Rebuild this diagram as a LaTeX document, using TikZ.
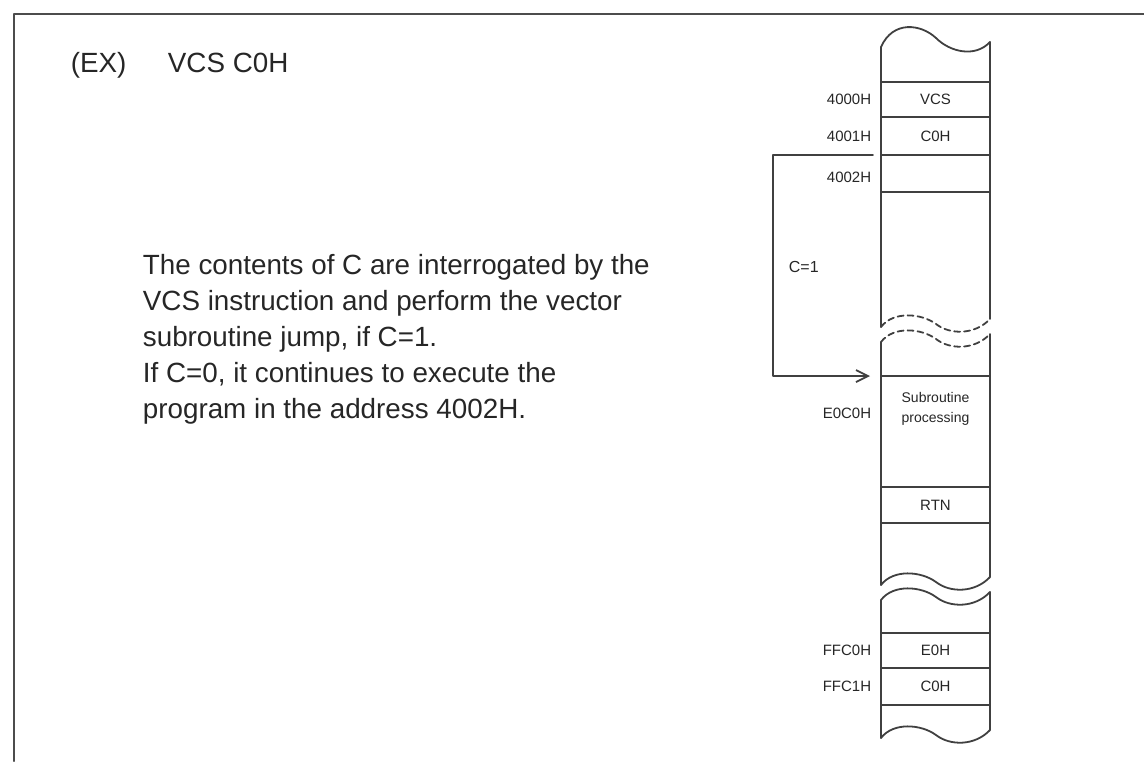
\documentclass[tikz,border=0pt]{standalone}
\usepackage{fontspec}
\setmainfont{Liberation Sans}
\usetikzlibrary{arrows.meta,positioning}
\colorlet{ink}{black!75}
\colorlet{txt}{black!85}

\begin{document}
\begin{tikzpicture}[x=0.5pt, y=-0.5pt, line join=round, line cap=round, >={Straight Barb[length=6pt,width=6pt]}, line width=0.9pt,
	cell/.style={draw=ink, minimum width=54.5pt, inner sep=0, outer sep=0, text=txt, font=\fontsize{7.5pt}{9pt}\selectfont},
	addr/.style={inner sep=0, text=txt, font=\fontsize{7.5pt}{9pt}\selectfont},
	para/.style={inner sep=0, align=left, text=txt, font=\fontsize{13.9pt}{18pt}\selectfont}]
			\useasboundingbox (0,0) rectangle (1144,761);
			\draw[black!70, line width=1pt] (14,761) -- (14,14) -- (1144,14);
			% heading and text
			\node[para, anchor=base west] (ex) at (70,72) {(EX)};
			\node[para, anchor=base west] (instr) at (167,72) {VCS C0H};
			\node[para, anchor=north west] (desc) at (142,253) {The contents of C are interrogated by the\\ VCS instruction and perform the vector\\ subroutine jump, if C=1.\\ If C=0, it continues to execute the\\ program in the address 4002H.};
			% memory strip
			\draw[ink] (881,47) .. controls (893,20) and (921,24) .. (936,38) .. controls (950,52) and (975,58) .. (990,42);
			\draw[ink] (881,47) -- (881,327) (990,42) -- (990,319);
			\draw[ink] (881,342) -- (881,585) (990,334) -- (990,577);
			\draw[ink] (881,600) -- (881,738) (990,592) -- (990,730);
			\foreach \y in {327,342}
				\draw[ink, densely dashed] (881,\y) .. controls (893,\y-16) and (921,\y-14) .. (936,\y-3) .. controls (950,\y+8) and (975,\y+8) .. (990,\y-8);
			\foreach \y in {585,600,738}
				\draw[ink] (881,\y) .. controls (893,\y-16) and (921,\y-14) .. (936,\y-3) .. controls (950,\y+8) and (975,\y+8) .. (990,\y-8);
			\node[cell, minimum height=17.5pt] (vcs) at (935.5,99.5) {VCS};
			\node[cell, minimum height=19pt, below=0pt of vcs] (cza) {C0H};
			\node[cell, minimum height=18.5pt, below=0pt of cza] (c4002) {};
			\node[cell, minimum height=55.5pt] (sub) at (935.5,431.5) {};
			\node[addr, align=center, font=\fontsize{7pt}{10pt}\selectfont, below=7.5pt of sub.north] (subtxt) {Subroutine\\ processing};
			\node[cell, minimum height=18pt, below=0pt of sub] (rtn) {RTN};
			\node[cell, minimum height=17.5pt] (eoh) at (935.5,650.5) {E0H};
			\node[cell, minimum height=18.5pt, below=0pt of eoh] (czb) {C0H};
			% addresses
			\node[addr, left=4.5pt of vcs] (a4000) {4000H};
			\node[addr, left=4.5pt of cza] (a4001) {4001H};
			\node[addr, left=4.5pt of c4002, yshift=-2pt] (a4002) {4002H};
			\node[addr, left=4.5pt of sub.west, yshift=9.25pt] (ae0c0) {E0C0H};
			\node[addr, left=4.5pt of eoh] (affc0) {FFC0H};
			\node[addr, left=4.5pt of czb] (affc1) {FFC1H};
			% jump
			\coordinate (jmp) at ([xshift=-4pt]c4002.north west);
			\draw[ink, ->] (jmp) -- ++(-100,0) |- ([xshift=-5.5pt]sub.north west);
			\node[addr, anchor=west, font=\fontsize{8pt}{9pt}\selectfont] (cone) at (788,267) {C=1};
	\end{tikzpicture}
\end{document}
